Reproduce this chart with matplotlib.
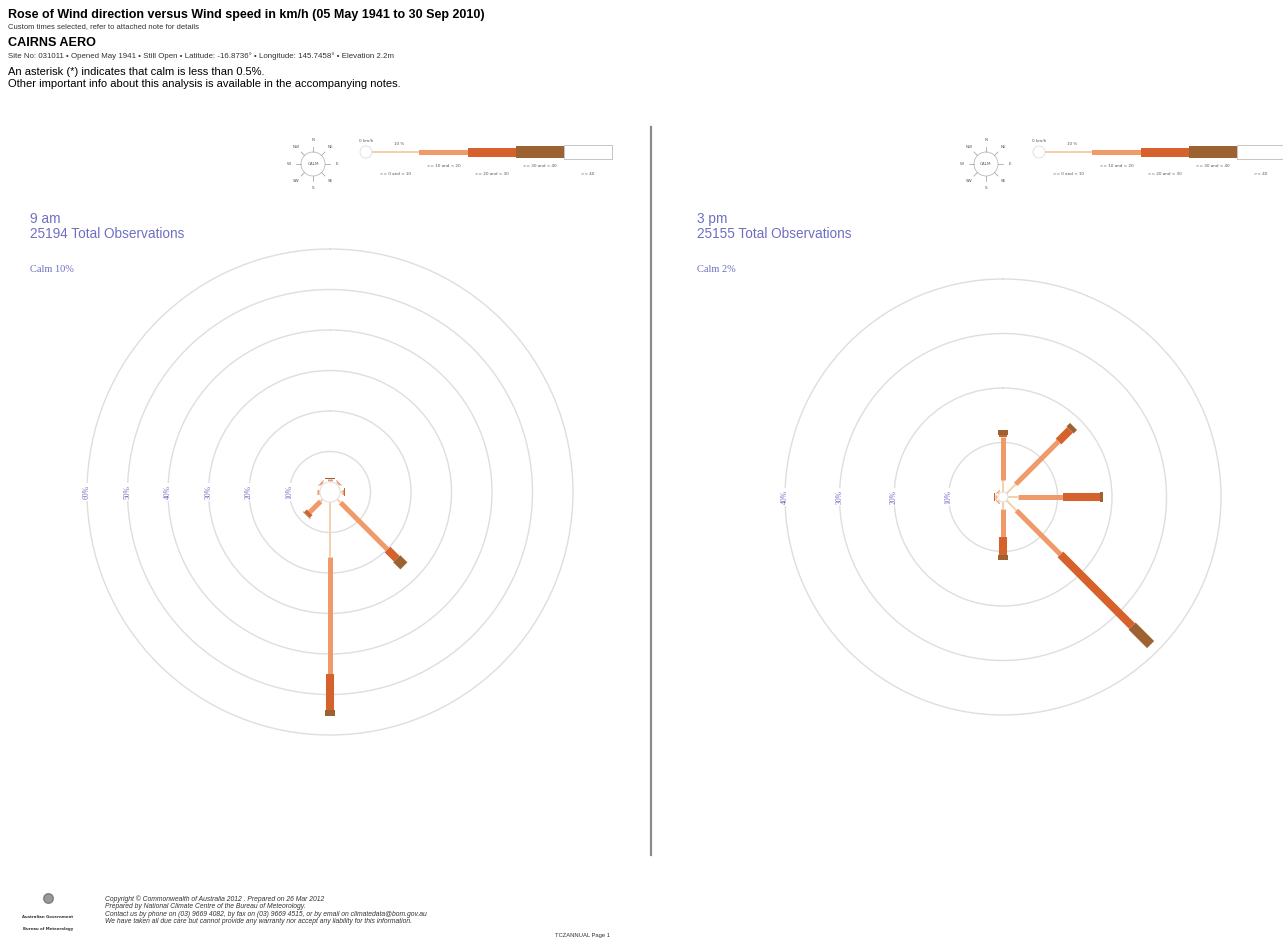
import numpy as np
import matplotlib
matplotlib.use('Agg')
from matplotlib import pyplot as plt
from matplotlib.patches import Rectangle, Circle

# ---- data -------------------------------------------------------------
directions = ['N', 'NE', 'E', 'SE', 'S', 'SW', 'W', 'NW']
speed_classes = ['>= 0 and < 10', '>= 10 and < 20', '>= 20 and < 30',
                 '>= 30 and < 40', '>= 40']

# 9 am : percent of observations per direction, one list per speed class
am_0_10 = [0.3, 0.3, 0.4, 1.2, 13.6, 0.8, 0.3, 0.3]
am_10_20 = [0.3, 0.3, 0.5, 16.4, 28.8, 3.8, 0.3, 0.3]
am_20_30 = [0.2, 0.1, 0.2, 3.2, 8.9, 0.9, 0.1, 0.1]
am_30_40 = [0.1, 0.0, 0.0, 2.5, 1.5, 0.2, 0.0, 0.0]
am_40 = [0.0, 0.0, 0.0, 0.0, 0.0, 0.0, 0.0, 0.0]
am_calm = 10
am_total = 25194

# 3 pm
pm_0_10 = [2.2, 2.4, 1.8, 2.6, 1.3, 0.3, 0.3, 0.3]
pm_10_20 = [7.9, 11.1, 8.3, 11.4, 5.2, 0.2, 0.3, 0.2]
pm_20_30 = [0.4, 3.0, 6.8, 18.6, 3.3, 0.0, 0.1, 0.0]
pm_30_40 = [0.9, 0.9, 0.6, 4.8, 0.9, 0.0, 0.0, 0.0]
pm_40 = [0.0, 0.0, 0.0, 0.0, 0.0, 0.0, 0.0, 0.0]
pm_calm = 2
pm_total = 25155

# ---- style ------------------------------------------------------------
class_colors = ['#f4d0a8', '#f09a6a', '#d5622c', '#9c6232', 'white']
class_widths = [1.4, 3.6, 5.8, 7.2, 8.5]
ring_color = '#dedede'
blue = '#6f6fc2'
sans = 'Liberation Sans'
serif = 'Liberation Serif'

W, H = 1283, 941
fig = plt.figure(figsize=(W / 100, H / 100), dpi=100)

# overlay axes in pixel coordinates for page furniture
bg = fig.add_axes([0, 0, 1, 1])
bg.set_xlim(0, W)
bg.set_ylim(H, 0)
bg.axis('off')


def px_axes(cx, cy, R):
    return fig.add_axes([(cx - R) / W, (H - cy - R) / H, 2 * R / W, 2 * R / H],
                        projection='polar')


def draw_rose(ax, rmax, classes, calm_r):
    ax.set_facecolor('none')
    ax.set_theta_zero_location('N')
    ax.set_theta_direction(-1)
    ax.set_ylim(0, rmax)
    rings = list(range(10, rmax + 1, 10))
    ax.set_yticks(rings[:-1])
    ax.set_yticklabels([])
    ax.set_xticks([])
    ax.yaxis.grid(True, color=ring_color, lw=1.0)
    ax.xaxis.grid(False)
    ax.spines['polar'].set_color(ring_color)
    ax.spines['polar'].set_linewidth(1.0)
    for r in rings:
        ax.text(np.radians(270), r, '%d%%' % r, rotation=90, ha='center',
                va='center', fontsize=5.5, color=blue, family=serif,
                bbox=dict(facecolor='white', edgecolor='none', pad=1.2),
                zorder=4)
    for i, d in enumerate(directions):
        theta = np.radians(45 * i)
        r = calm_r
        for k, vals in enumerate(classes):
            v = vals[i]
            if v <= 0:
                continue
            ax.plot([theta, theta], [r, r + v], color=class_colors[k],
                    lw=class_widths[k], solid_capstyle='butt', zorder=3)
            r += v
    t = np.linspace(0, 2 * np.pi, 120)
    ax.fill(t, np.full(120, calm_r), facecolor='white', edgecolor='#e2e2e2',
            lw=0.8, zorder=5)


ax_am = px_axes(330, 492, 243)
draw_rose(ax_am, 60, [am_0_10, am_10_20, am_20_30, am_30_40, am_40], 2.5)
ax_pm = px_axes(1003, 497, 218)
draw_rose(ax_pm, 40, [pm_0_10, pm_10_20, pm_20_30, pm_30_40, pm_40], 0.9)

# ---- header -----------------------------------------------------------
bg.text(8, 15, 'Rose of Wind direction versus Wind speed in km/h (05 May 1941 to 30 Sep 2010)',
        fontsize=9.0, weight='bold', family=sans, va='center')
bg.text(8, 27, 'Custom times selected, refer to attached note for details',
        fontsize=5.5, family=sans, va='center', color='#333333')
bg.text(8, 43, 'CAIRNS AERO', fontsize=9.1, weight='bold', family=sans, va='center')
bg.text(8, 56, 'Site No: 031011 \u2022 Opened May 1941 \u2022 Still Open \u2022 Latitude: -16.8736\u00b0 '
        '\u2022 Longitude: 145.7458\u00b0 \u2022 Elevation 2.2m',
        fontsize=5.7, family=sans, va='center', color='#333333')
bg.text(8, 72, 'An asterisk (*) indicates that calm is less than 0.5%.',
        fontsize=8.0, family=sans, va='center')
bg.text(8, 84, 'Other important info about this analysis is available in the accompanying notes.',
        fontsize=8.0, family=sans, va='center')

# divider
bg.plot([651, 651], [127, 855], color='#8a8a8a', lw=1.6)

# ---- rose titles ------------------------------------------------------
for x0, when, total, calm in [(30, '9 am', am_total, am_calm),
                              (697, '3 pm', pm_total, pm_calm)]:
    bg.text(x0, 219, when, fontsize=9.8, family=sans, color=blue, va='center')
    bg.text(x0, 234, '%d Total Observations' % total, fontsize=9.8,
            family=sans, color=blue, va='center')
    bg.text(x0, 269, 'Calm %d%%' % calm, fontsize=7.5, family=serif,
            color=blue, va='center')

# ---- legends ----------------------------------------------------------
seg_edges = [372, 419, 468, 516, 564, 612]
seg_heights = [1.5, 5, 9, 12, 14]
for dx in [0, 673]:
    # compass
    cx, cy = 313 + dx, 164
    bg.add_patch(Circle((cx, cy), 12, facecolor='white', edgecolor='#bbbbbb', lw=0.6))
    bg.text(cx, cy, 'CALM', fontsize=3, ha='center', va='center', color='#555555')
    for i, d in enumerate(directions):
        a = np.radians(45 * i)
        sx, sy = np.sin(a), -np.cos(a)
        bg.plot([cx + 12 * sx, cx + 17 * sx], [cy + 12 * sy, cy + 17 * sy],
                color='#999999', lw=0.5)
        bg.text(cx + 24 * sx, cy + 24 * sy, d, fontsize=3, ha='center',
                va='center', color='#555555')
    # bar
    bx = 366 + dx
    bg.add_patch(Circle((bx, 152), 6, facecolor='white', edgecolor='#dddddd', lw=0.6))
    bg.text(bx, 141, '0 km/h', fontsize=3, ha='center', va='center', color='#555555')
    bg.text(399 + dx, 144, '10 %', fontsize=3, ha='center', va='center', color='#555555')
    for k, lab in enumerate(speed_classes):
        x1, x2 = seg_edges[k] + dx, seg_edges[k + 1] + dx
        h = seg_heights[k]
        ec = '#bbbbbb' if k == 4 else 'none'
        bg.add_patch(Rectangle((x1, 152 - h / 2), x2 - x1, h,
                               facecolor=class_colors[k], edgecolor=ec, lw=0.6))
        ty = 174 if k % 2 == 0 else 166
        bg.text((x1 + x2) / 2, ty, lab, fontsize=3, ha='center', va='center',
                color='#555555')

# ---- footer -----------------------------------------------------------
bg.text(48, 917, 'Australian Government', fontsize=2.8, ha='center',
        va='center', weight='bold', color='#333333')
bg.text(48, 929, 'Bureau of Meteorology', fontsize=2.8, ha='center',
        va='center', weight='bold', color='#333333')
bg.plot([48], [898], marker='o', ms=7, color='#555555', alpha=0.6)
footer = ['Copyright \u00a9 Commonwealth of Australia 2012 . Prepared on 26 Mar 2012',
          'Prepared by National Climate Centre of the Bureau of Meteorology.',
          'Contact us by phone on (03) 9669 4082, by fax on (03) 9669 4515, or by email on climatedata@bom.gov.au',
          'We have taken all due care but cannot provide any warranty nor accept any liability for this information.']
for i, line in enumerate(footer):
    bg.text(105, 899 + 7.5 * i, line, fontsize=4.9, style='italic',
            family=sans, va='center', color='#333333')
bg.text(555, 935, 'TCZANNUAL Page 1', fontsize=4.2, family=sans, va='center',
        color='#333333')

fig.savefig('out.png', dpi=100)
